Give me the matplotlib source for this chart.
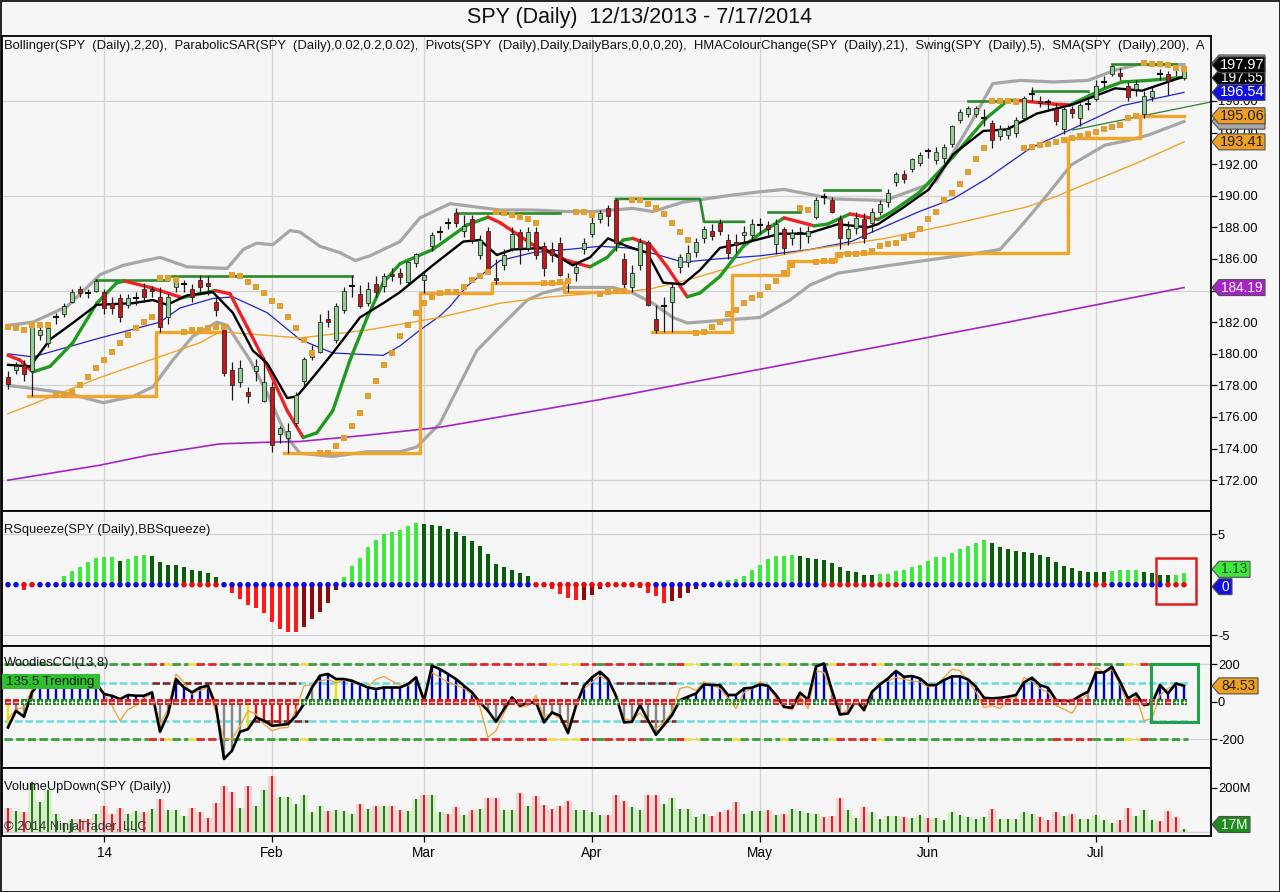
import numpy as np
import matplotlib
matplotlib.use("Agg")
import matplotlib.pyplot as plt
from matplotlib.patches import Rectangle, Polygon

plt.rcParams['font.family'] = ['Liberation Sans', 'DejaVu Sans']
plt.rcParams['axes.unicode_minus'] = False

# ---------------------------------------------------------------- data
title = "SPY (Daily)  12/13/2013 - 7/17/2014"
month_idx = [12, 33, 52, 73, 94, 115, 136]
month_labels = ["14", "Feb", "Mar", "Apr", "May", "Jun", "Jul"]

opens = [178.5, 178.97, 179.3, 178.9, 181.2, 180.7, 182.25, 182.5, 183.3, 184.1,
         183.8, 184.0, 183.9, 183.2, 183.5, 183.1, 183.45, 184.1, 184.1, 183.6,
         182.3, 184.2, 184.35, 184.1, 184.7, 184.5, 183.3, 181.6, 179.0, 178.2,
         177.6, 178.9, 177.0, 177.9, 174.9, 174.7, 175.6, 178.3, 179.8, 180.1,
         182.2, 180.9, 182.8, 184.25, 183.8, 183.2, 184.4, 184.3, 185.05, 185.1,
         184.55, 185.75, 184.7, 186.8, 187.65, 188.25, 188.9, 187.8, 188.5, 186.25,
         187.8, 184.8, 185.6, 186.7, 187.7, 186.7, 187.7, 186.8, 186.6, 187.0,
         184.8, 185.1, 186.6, 187.6, 188.5, 189.2, 189.7, 186.0, 184.2, 185.6,
         187.1, 182.2, 182.95, 183.3, 185.5, 185.8, 186.45, 187.3, 187.8, 188.3,
         187.2, 187.1, 187.5, 187.5, 188.1, 188.15, 186.95, 187.9, 187.3, 187.6,
         187.45, 188.65, 189.85, 189.7, 188.5, 187.3, 187.95, 188.5, 188.3, 189.0,
         189.6, 190.9, 191.4, 191.7, 192.1, 192.8, 192.25, 192.4, 193.3, 194.8,
         195.2, 195.2, 194.85, 194.6, 193.8, 193.85, 194.0, 194.9, 196.4, 196.0,
         195.9, 195.5, 194.2, 195.5, 194.9, 195.75, 196.1, 197.15, 197.7, 197.8,
         196.95, 196.75, 195.2, 196.25, 197.65, 197.7, 197.9, 197.45]
closes = [178.1, 179.2, 178.7, 181.7, 181.5, 181.6, 182.3, 183.0, 183.9, 183.85,
          183.85, 184.6, 182.9, 182.9, 182.3, 183.5, 183.5, 183.6, 184.0, 181.7,
          183.6, 184.7, 184.4, 183.6, 184.2, 184.3, 182.8, 178.8, 178.0, 179.1,
          177.3, 179.2, 178.2, 174.2, 175.3, 175.1, 177.4, 179.7, 180.05, 182.0,
          182.0, 183.0, 184.0, 184.3, 183.0, 184.1, 183.9, 184.9, 184.9, 184.85,
          185.8, 186.3, 185.0, 187.5, 187.7, 188.3, 188.3, 188.1, 187.2, 187.2,
          185.3, 184.7, 186.25, 187.6, 186.7, 187.7, 186.25, 185.4, 186.25, 185.0,
          184.5, 185.5, 187.0, 188.3, 188.9, 188.7, 187.0, 184.4, 185.1, 187.1,
          183.1, 181.5, 183.0, 184.2, 186.1, 186.4, 187.1, 187.9, 187.45, 187.8,
          186.4, 186.9, 187.7, 188.2, 188.15, 187.9, 188.2, 186.7, 187.65, 187.65,
          187.75, 189.7, 189.9, 189.0, 187.3, 187.9, 188.6, 187.3, 189.0, 189.5,
          190.2, 191.4, 191.05, 192.3, 192.6, 192.85, 192.8, 193.1, 194.4, 195.3,
          195.55, 195.55, 194.9, 193.5, 194.2, 194.2, 194.8, 196.2, 196.45, 195.9,
          195.95, 194.7, 195.5, 195.25, 195.75, 195.8, 196.95, 197.2, 198.2, 197.6,
          196.25, 197.1, 196.3, 196.6, 197.7, 197.25, 197.95, 197.97]
highs = [178.9, 179.5, 179.6, 181.9, 181.8, 181.9, 182.6, 183.2, 184.1, 184.3,
         184.1, 184.75, 184.1, 183.6, 183.8, 183.8, 183.9, 184.5, 184.3, 184.2,
         183.8, 184.8, 184.7, 184.4, 185.0, 184.9, 183.6, 181.8, 179.5, 179.6,
         177.9, 179.7, 179.8, 178.2, 175.4, 175.6, 177.6, 179.8, 180.55, 182.5,
         182.8, 183.2, 184.2, 185.0, 184.35, 184.55, 184.9, 185.1, 185.4, 185.4,
         185.85, 186.35, 185.1, 187.7, 188.1, 188.6, 189.2, 188.8, 188.8, 187.5,
         188.0, 186.0, 186.6, 188.0, 187.9, 188.0, 188.0, 187.1, 187.1, 187.4,
         185.1, 185.9, 187.3, 188.7, 189.1, 189.4, 189.8, 186.4, 185.6, 187.3,
         187.2, 183.1, 183.6, 184.5, 186.3, 186.9, 187.3, 188.1, 188.2, 188.5,
         187.6, 187.6, 188.1, 188.5, 188.6, 188.4, 188.5, 188.0, 187.9, 188.0,
         188.1, 189.9, 190.2, 189.9, 188.8, 188.4, 189.0, 188.9, 189.2, 189.7,
         190.4, 191.5, 191.6, 192.4, 192.8, 193.0, 193.1, 193.3, 194.5, 195.5,
         195.7, 195.7, 195.5, 194.8, 194.5, 194.5, 195.0, 196.3, 196.9, 196.3,
         196.1, 195.9, 195.7, 195.7, 195.9, 196.1, 197.3, 197.6, 198.3, 198.1,
         197.2, 197.3, 196.6, 196.9, 198.0, 197.9, 198.2, 198.1]
lows = [177.8, 178.7, 178.3, 177.3, 180.9, 180.4, 181.9, 182.3, 183.2, 183.6,
        183.5, 183.9, 182.5, 182.5, 182.0, 182.9, 183.1, 183.3, 183.6, 181.4,
        181.9, 183.9, 183.9, 183.3, 183.9, 183.7, 182.4, 178.6, 177.1, 177.9,
        176.9, 178.3, 176.95, 173.8, 174.35, 173.7, 175.4, 177.9, 179.6, 180.05,
        181.7, 180.7, 182.6, 183.6, 182.9, 183.0, 183.6, 183.9, 184.6, 184.4,
        184.4, 185.5, 183.85, 186.5, 187.2, 187.9, 188.0, 187.4, 187.0, 186.0,
        185.1, 184.4, 185.3, 186.5, 185.7, 186.5, 186.0, 184.9, 185.8, 184.9,
        183.9, 184.6, 186.3, 187.4, 188.3, 188.1, 186.5, 184.0, 183.9, 185.3,
        183.0, 181.3, 181.4, 181.4, 185.1, 185.5, 186.1, 187.0, 187.2, 187.5,
        186.0, 186.4, 187.1, 187.2, 187.6, 187.5, 186.3, 186.3, 186.9, 186.6,
        187.0, 188.5, 189.5, 188.9, 186.6, 186.9, 187.6, 187.0, 187.7, 188.8,
        189.3, 190.6, 190.8, 191.5, 191.9, 192.4, 192.0, 192.1, 193.1, 194.6,
        195.0, 195.0, 194.4, 193.0, 193.5, 193.6, 193.7, 194.7, 196.0, 195.6,
        195.5, 194.5, 193.9, 194.9, 194.4, 195.4, 196.0, 196.9, 197.6, 197.3,
        196.0, 196.3, 194.9, 196.0, 197.3, 196.4, 197.6, 197.3]

# Parabolic SAR, one dot per bar
sar = [181.7, 181.6, 181.5, 181.8, 181.8, 181.8, 177.4, 177.4, 177.6, 178.0,
       178.5, 179.1, 179.6, 180.1, 180.7, 181.2, 181.6, 182.0, 182.3, 184.8,
       184.8, 184.7, 181.4, 181.5, 181.5, 181.6, 181.7, 181.7, 185.0, 184.9,
       184.55, 184.2, 183.85, 183.35, 183.0, 182.3, 181.6, 180.9, 180.05, 173.7,
       173.7, 174.15, 174.7, 175.4, 176.25, 177.3, 178.3, 179.3, 180.05, 181.1,
       181.8, 182.6, 183.2, 183.6, 183.85, 183.9, 183.9, 184.2, 184.7, 184.9,
       185.2, 189.0, 188.9, 188.8, 188.65, 188.5, 188.3, 184.5, 184.5, 184.55,
       184.6, 189.0, 188.95, 188.8, 183.8, 183.9, 183.95, 184.0, 189.7, 189.7,
       189.5, 189.2, 188.85, 188.3, 187.7, 187.2, 181.3, 181.4, 181.7, 182.0,
       182.5, 182.8, 183.2, 183.5, 183.7, 184.2, 184.6, 185.1, 185.6, 189.2,
       189.1, 185.8, 185.9, 185.9, 186.25, 186.3, 186.3, 186.4, 186.5, 186.8,
       186.95, 187.0, 187.3, 187.5, 187.9, 188.5, 189.0, 189.7, 190.2, 190.75,
       191.5, 192.3, 193.0, 196.0, 196.0, 196.0, 195.95, 193.0, 193.1, 193.2,
       193.3, 193.4, 193.5, 193.65, 193.8, 193.9, 194.05, 194.2, 194.35, 194.5,
       194.9, 195.05, 198.4, 198.35, 198.35, 198.3, 198.1, 198.0]

# Swing low steps (first bar, last bar, level) and swing highs
swing_low_segments = [(3, 18, 177.3), (19, 26, 181.35), (35, 51, 173.7), (52, 60, 183.85),
                      (61, 69, 184.5), (70, 77, 183.9), (81, 90, 181.4), (91, 97, 185.0),
                      (98, 103, 185.9), (104, 132, 186.4), (133, 141, 193.65), (142, 147, 195.06)]
swing_high_paths = [([11, 20], [184.7, 184.7]), ([20.5, 43], [184.9, 184.9]),
                    ([56, 69], [188.9, 188.9]),
                    ([76, 86.5, 87, 92], [189.8, 189.8, 188.35, 188.35]),
                    ([95, 99], [189.0, 189.0]), ([102, 109], [190.35, 190.35]),
                    ([120, 125], [196.0, 196.0]), ([128, 135], [196.6, 196.6]),
                    ([138, 146], [198.35, 198.35])]

# Smooth indicator lines read at knots (bar index, value)
bb_up_idx = [0, 3.1, 7.4, 11.5, 14.4, 19, 22.4, 27.4, 29.4, 31.1, 33.1, 35.25, 36.5, 39, 41.5,
             43.4, 45.25, 49, 51.5, 55.25, 61.5, 65.6, 69.9, 73.1, 78.1, 80.6, 84.4, 90.6, 94, 97,
             103.25, 109.6, 116, 120.25, 123.1, 126.5, 130.75, 135, 138.4, 141.25, 147]
bb_up = [181.8, 182.0, 183.0, 185.0, 185.6, 186.1, 185.5, 185.4, 186.6, 187.0, 186.9, 187.8, 187.7,
         186.8, 186.4, 185.9, 186.2, 187.1, 188.6, 189.5, 189.1, 189.1, 189.0, 189.0, 189.2, 189.0,
         189.6, 190.05, 190.25, 190.4, 189.8, 189.7, 190.9, 194.5, 197.1, 197.3, 197.2, 197.3,
         197.95, 198.3, 198.3]
bb_lo_idx = [0, 3.1, 7.4, 11.9, 15.6, 18.1, 20.6, 23.1, 26.1, 27.4, 30.25, 32.4, 34.9, 36.5, 40.6,
             44.9, 49, 51.1, 54, 58.6, 61.5, 64.9, 66.9, 69.9, 73.1, 75.6, 78.1, 80.6, 83.1, 84.9,
             94, 97.75, 100.25, 103.75, 109.6, 120.25, 124, 126.5, 129.5, 132.9, 137.1, 140,
             142.6, 147]
bb_lo = [178.0, 177.8, 177.5, 176.9, 177.3, 177.9, 179.6, 181.1, 182.0, 181.8, 179.6, 177.5, 174.7,
         173.7, 173.5, 173.8, 173.8, 174.1, 175.6, 180.2, 181.7, 183.4, 183.85, 184.2, 184.2, 184.2,
         183.85, 183.2, 182.3, 181.95, 182.3, 183.4, 184.35, 185.1, 185.55, 186.3, 186.6, 188.0,
         189.8, 191.95, 193.2, 193.5, 193.85, 194.7]
bb_mid_idx = [0, 3.1, 11.5, 19, 21.5, 25.6, 28.1, 32.4, 36.5, 40.6, 46.9, 49, 51.5, 54, 55.25,
              57.4, 61.5, 65.6, 69.9, 74, 77.4, 80.25, 84.4, 88.6, 94, 100.25, 105.4, 108, 113.9,
              118.1, 122.25, 127.75, 132.9, 139.25, 147]
bb_mid = [180.0, 179.8, 181.0, 182.0, 182.9, 183.5, 183.6, 182.6, 180.9, 180.05, 179.9, 180.5,
          181.5, 182.4, 183.0, 184.3, 185.9, 186.4, 186.6, 186.8, 186.7, 186.4, 185.8, 186.0,
          186.2, 186.6, 187.1, 187.7, 189.0, 189.8, 191.05, 193.0, 194.2, 195.7, 196.54]
avg_idx = [0, 2.75, 5.25, 8.1, 11.1, 15.6, 18.1, 19.9, 22.4, 25.6, 28.1, 30.6, 32.4, 34.9, 36.1,
           38.1, 40.6, 44, 46.9, 49, 53.1, 56.9, 59, 61.1, 63.1, 66.9, 70.6, 72.75, 75, 77.4, 79.9,
           81.9, 84.4, 86.5, 89, 92.75, 96.5, 99.9, 103.75, 107.5, 108.75, 111.75, 115.1, 118.1,
           121.9, 124.9, 128.6, 133.25, 138.4, 141.75, 147]
avg_val = [179.3, 179.2, 180.9, 181.95, 183.1, 183.2, 183.4, 183.1, 183.7, 183.9, 182.6, 180.2,
           179.4, 177.2, 177.3, 178.5, 180.05, 182.3, 183.2, 183.9, 185.6, 187.1, 187.2, 186.25,
           186.6, 186.7, 185.6, 186.1, 187.3, 186.8, 186.4, 184.5, 184.4, 185.3, 186.7, 187.1,
           187.6, 187.6, 188.2, 188.0, 188.2, 189.2, 190.4, 192.6, 194.1, 194.2, 195.2, 195.8,
           196.8, 196.65, 197.55]
hma_idx = [0, 1.5, 3.1, 5.25, 8.1, 11.1, 13.6, 14.6, 17.75, 21.75, 25.9, 27.75, 29.9, 32.4, 34.9,
           36.9, 38.6, 40.6, 42.75, 44.9, 46.9, 49, 53.1, 57.4, 60, 61.5, 65.6, 69.9, 72.75, 74.9,
           76.9, 78.1, 80.25, 82.4, 84.9, 86.5, 89, 91.9, 94, 97, 100.75, 102.4, 105.25, 108.75,
           110.5, 113.9, 118.1, 122.25, 124.9, 125.9, 130.75, 132.75, 137.1, 139.25, 142.6, 147]
hma_val = [179.9, 179.6, 178.85, 179.2, 180.7, 183.2, 184.5, 184.6, 184.2, 183.55, 184.0, 183.8,
           181.7, 179.2, 176.4, 174.7, 175.0, 176.4, 179.6, 182.3, 184.5, 185.7, 186.6, 188.15,
           188.65, 188.3, 186.9, 185.9, 185.5, 186.1, 187.2, 187.3, 186.9, 185.5, 183.6, 183.85,
           184.9, 186.8, 187.6, 188.6, 188.1, 188.2, 188.85, 188.5, 189.0, 190.2, 192.45, 194.9,
           196.0, 196.05, 195.8, 195.75, 196.8, 197.2, 197.3, 197.5]
sma50_idx = [0, 11.5, 24, 26.5, 36.5, 44.9, 54, 61.5, 67.75, 74, 77.75, 80.25, 84.4, 90.6, 94,
             100.4, 109.6, 118.1, 127.4, 130.75, 135, 141.25, 147]
sma50 = [176.2, 178.5, 180.7, 181.4, 181.0, 181.5, 182.3, 183.2, 183.6, 183.85, 183.95, 184.1,
         184.6, 185.5, 186.0, 186.6, 187.3, 188.2, 189.3, 189.9, 190.8, 192.1, 193.41]
sma200_idx = [0, 11.5, 17.75, 26.5, 32.4, 36.5, 44.9, 54, 74, 99, 124, 147]
sma200 = [172.0, 172.95, 173.6, 174.3, 174.4, 174.45, 174.85, 175.35, 177.1, 179.5, 181.9, 184.19]
trend_idx = [133.1, 150.4]
trend_val = [194.16, 195.94]

# BBSqueeze histogram
squeeze = [0.05, 0.05, -0.5, -0.05, 0.1, 0.1, 0.15, 0.84, 1.34, 1.8,
           2.25, 2.7, 2.75, 2.78, 2.4, 2.6, 2.85, 2.9, 2.88, 2.3,
           2.0, 1.98, 1.8, 1.5, 1.4, 1.2, 0.8, -0.1, -0.85, -1.4,
           -2.05, -2.3, -2.8, -3.7, -4.45, -4.65, -4.7, -4.2, -3.45, -2.7,
           -1.8, -0.55, 0.75, 1.85, 2.7, 3.7, 4.4, 5.0, 5.2, 5.45,
           5.8, 6.1, 6.0, 5.95, 5.85, 5.55, 5.2, 4.85, 4.35, 3.85,
           3.0, 2.1, 1.75, 1.5, 1.15, 0.9, -0.1, -0.2, -0.4, -0.95,
           -1.3, -1.55, -1.5, -1.05, -0.45, -0.1, -0.05, -0.1, -0.2, -0.35,
           -0.85, -1.1, -1.8, -1.6, -1.3, -0.85, -0.45, 0.1, 0.2, 0.4,
           0.5, 0.6, 0.9, 1.5, 2.0, 2.6, 2.85, 2.87, 2.9, 2.85,
           2.65, 2.6, 2.5, 2.2, 1.75, 1.4, 1.25, 1.0, 0.98, 1.07,
           1.08, 1.35, 1.5, 1.75, 2.0, 2.4, 2.75, 2.8, 3.15, 3.5,
           3.85, 4.1, 4.43, 4.1, 3.75, 3.5, 3.3, 3.25, 3.1, 2.9,
           2.75, 2.25, 1.9, 1.65, 1.4, 1.25, 1.24, 1.23, 1.38, 1.42,
           1.44, 1.46, 1.3, 1.15, 0.98, 0.92, 1.0, 1.13]
squeeze_on_bars = [2, 3, 22, 23, 24, 25, 26] + list(range(66, 81)) + list(range(102, 112)) + [136, 137, 145, 146, 147]

# Woodies CCI
cci = [-137, -48, -80, 50, 103, 120, 130, 135, 125, 115,
       110, 100, 41, 32, 14, 36, 32, 32, 50, -160,
       -66, 121, 76, 50, 76, 85, -21, -305, -261, -160,
       -146, -84, -101, -128, -124, -119, -75, -12, 76, 139,
       148, 121, 121, 112, 94, 76, 68, 76, 76, 76,
       94, 130, 5, 192, 174, 148, 121, 85, 50, -4,
       -48, -107, -39, 23, -21, -4, -4, -110, -57, -75,
       -167, -21, 85, 130, 160, 121, 32, -110, -107, -18,
       -98, -176, -124, -71, 9, 27, 44, 92, 89, 89,
       36, 36, 71, 75, 92, 85, 36, -27, -32, 48,
       12, 187, 204, 60, -68, -62, 9, -44, 53, 92,
       124, 164, 133, 137, 124, 89, 89, 116, 135, 135,
       119, 80, 21, 18, 21, 27, 36, 103, 128, 89,
       75, 9, 4, 4, 32, 53, 156, 156, 187, 107,
       18, 44, -18, -9, 89, 44, 98, 84.53]
turbo_cci = [-92, -40, -30, 68, 110, 125, 135, 140, 130, 115,
             100, 90, 40, -21, -101, -40, -21, 20, 40, -120,
             -40, 148, 103, 40, 60, 75, -60, -199, -199, -128,
             -48, -66, -120, -155, -140, -137, -40, 85, 89, 110,
             120, 100, 115, 105, 90, 80, 120, 135, 110, 90,
             85, 120, 30, 156, 130, 103, 90, 70, 40, -30,
             -190, -155, -60, 23, -30, -20, 32, -80, -60, -90,
             -137, -21, 70, 103, 139, 110, 20, -90, -100, -60,
             -107, -142, -110, -53, 71, 80, 60, 107, 90, 70,
             20, -36, 50, 70, 107, 80, 20, -30, -44, 30,
             -36, 165, 156, 40, -71, -40, 0, -53, 40, 103,
             110, 130, 120, 110, 105, 80, 85, 130, 174, 165,
             110, 53, -32, -20, -36, 10, 30, 130, 110, 70,
             50, -20, -40, -62, 10, 40, 183, 156, 170, 90,
             -20, 30, -101, -89, 36, 71, 90, 85]
cci_bar_codes = ('y' + 'g' * 3 + 'b' * 15 + 'g' * 2 + 'b' * 5 + 'g' * 4 + 'y' + 'r' * 6 + 'g' * 2
                 + 'b' * 2 + 'y' + 'b' * 10 + 'g' + 'b' * 6 + 'g' * 13 + 'b' * 4 + 'g' * 8 + 'b' * 12
                 + 'g' * 5 + 'b' * 2 + 'g' * 5 + 'b' * 14 + 'g' * 5 + 'b' * 4 + 'g' * 5 + 'b' * 4
                 + 'g' * 4 + 'b' * 4)
cci_zero_marks = ('--' + '+' * 10 + '-' * 25 + '+' * 15 + '-' * 20 + '+' * 5 + '-' * 7 + '+' * 12
                  + '-' * 5 + '++' + '-' * 5 + '+' * 14 + '-' * 14 + '+' * 4 + '-' * 4 + '+' + '-' + '++')
band_red_bars = [18, 19, 24, 25, 26] + list(range(58, 68)) + [72, 73, 75, 76, 77, 78, 79, 84] \
    + list(range(104, 109)) + list(range(131, 136)) + [142]
band_yellow_bars = [20, 23, 37, 68, 69, 70, 71, 85, 86, 91, 97, 103, 109, 140, 141]
zone_segments = [(18, 36.5, 100), (30.5, 37.5, -100), (69, 71.5, 100), (69, 71.5, -100),
                 (76, 83.5, 100), (79, 83.5, -100)]

# Volume (millions of shares) and up/down colour
volume = [110, 95, 92, 228, 136, 192, 84, 44, 62, 62,
          59, 84, 118, 84, 110, 84, 95, 92, 104, 148,
          102, 102, 74, 110, 92, 65, 132, 207, 181, 110,
          210, 118, 192, 252, 161, 161, 129, 166, 92, 118,
          96, 99, 96, 81, 126, 107, 118, 118, 118, 99,
          96, 148, 166, 166, 92, 81, 114, 77, 102, 104,
          154, 154, 99, 99, 178, 118, 163, 124, 107, 118,
          141, 99, 99, 92, 77, 77, 166, 141, 114, 99,
          169, 169, 129, 154, 104, 104, 70, 84, 74, 92,
          99, 136, 84, 95, 95, 99, 77, 84, 104, 95,
          87, 84, 70, 74, 154, 99, 65, 114, 92, 62,
          73, 73, 70, 65, 77, 65, 65, 55, 92, 77,
          70, 62, 70, 104, 62, 62, 62, 92, 84, 70,
          55, 92, 74, 84, 62, 62, 80, 55, 40, 55,
          110, 74, 99, 55, 50, 95, 70, 17]
volume_dir = ("rgrggggggr" "rgrrrggrgr" "gggrrrrrrg" "rggrgggggg" "rgggrgrgrr"
              "ggrggrrgrg" "rrggrgrrrr" "rggggrrrgg" "rrggggggrr" "rrgggrgrgg"
              "ggrrrggrgg" "ggrggrgggg" "gggrgggggr" "rrgrgggggr" "rgggrrrg")

n = len(closes)
for arr in (opens, highs, lows, sar, squeeze, cci, turbo_cci, volume):
    assert len(arr) == n, len(arr)
assert len(cci_bar_codes) == n and len(cci_zero_marks) == n and len(volume_dir) == n

# ---------------------------------------------------------------- figure
W, H = 1280, 892
fig = plt.figure(figsize=(W / 100, H / 100), dpi=100)
BG = '#f6f6f6'
GRID = '#d2d2d2'
fig.patch.set_facecolor(BG)


def px_rect(x0, y0, x1, y1):
    return [x0 / W, 1 - y1 / H, (x1 - x0) / W, (y1 - y0) / H]


ax1 = fig.add_axes(px_rect(2, 36, 1211, 511))
ax2 = fig.add_axes(px_rect(2, 511, 1211, 646))
ax3 = fig.add_axes(px_rect(2, 646, 1211, 768))
ax4 = fig.add_axes(px_rect(2, 768, 1211, 836))
axes = [ax1, ax2, ax3, ax4]
ax1.set_ylim(170.05, 200.11)
ax2.set_ylim(-6.09, 7.32)
ax3.set_ylim(-353, 297)
ax4.set_ylim(-16.8, 290)

x = np.arange(n)
for ax in axes:
    ax.set_facecolor(BG)
    ax.set_xlim(-0.75, 150.375)
    for s in ax.spines.values():
        s.set_color('black')
        s.set_linewidth(1.3)
    ax.yaxis.tick_right()
    ax.tick_params(axis='y', direction='out', length=4, width=0.9, labelsize=9.3, pad=1)
    ax.tick_params(axis='x', length=0, labelbottom=False)
    for m in month_idx:
        ax.axvline(m, color=GRID, lw=0.9, zorder=0)

# ---------------- price panel
price_ticks = np.arange(172, 197, 2)
ax1.set_yticks(price_ticks)
# 184.00 sits fully under the SMA(200) value tag, as in the original
ax1.set_yticklabels(['' if v == 184 else '%.2f' % v for v in price_ticks])
for g in (172, 178, 184, 190, 196):
    ax1.axhline(g, color=GRID, lw=0.9, zorder=0)

ax1.plot(bb_up_idx, bb_up, color='#a6a6a6', lw=2.3, zorder=2)
ax1.plot(bb_lo_idx, bb_lo, color='#a6a6a6', lw=2.3, zorder=2)
ax1.plot(bb_mid_idx, bb_mid, color='#2323c8', lw=0.9, zorder=2)
ax1.plot(sma50_idx, sma50, color='#f0a428', lw=1.0, zorder=2)
ax1.plot(sma200_idx, sma200, color='#a424c4', lw=1.2, zorder=2)
ax1.plot(trend_idx, trend_val, color='#2e7d2e', lw=0.9, zorder=2)

step = np.full(n, np.nan)
for a, b, v in swing_low_segments:
    step[a:b + 1] = v
ax1.plot(x, step, drawstyle='steps-mid', color='#f2a52a', lw=2.4, zorder=2.2)
for px_, pv in swing_high_paths:
    ax1.plot(px_, pv, color='#2a8a2a', lw=1.9, zorder=2.2)

hx = np.array(hma_idx)
hv = np.array(hma_val)
for k in range(len(hx) - 1):
    col = '#1f9a1f' if hv[k + 1] >= hv[k] else '#ee2222'
    ax1.plot(hx[k:k + 2], hv[k:k + 2], color=col, lw=2.4, solid_capstyle='round', zorder=2.5)
ax1.plot(avg_idx, avg_val, color='black', lw=1.7, zorder=2.6)

o = np.array(opens); c = np.array(closes); hi = np.array(highs); lo = np.array(lows)
ax1.vlines(x, lo, hi, color='#1c1c1c', lw=0.9, zorder=3)
body = np.abs(c - o)
doji = body < 0.08
up = (c > o) & ~doji
dn = (c < o) & ~doji
ax1.bar(x[up], body[up], bottom=np.minimum(o, c)[up], width=0.62, color='#8fcf8f',
        edgecolor='#2a2a2a', linewidth=0.6, zorder=3.2)
ax1.bar(x[dn], body[dn], bottom=np.minimum(o, c)[dn], width=0.62, color='#c41818',
        edgecolor='#2a2a2a', linewidth=0.6, zorder=3.2)
ax1.hlines(c[doji], x[doji] - 0.38, x[doji] + 0.38, color='#101010', lw=1.5, zorder=3.2)

ax1.scatter(x, sar, marker='s', s=17, color='#e3a030', linewidths=0, zorder=4)

legend = ("Bollinger(SPY  (Daily),2,20),  ParabolicSAR(SPY  (Daily),0.02,0.2,0.02),  "
          "Pivots(SPY  (Daily),Daily,DailyBars,0,0,0,20),  HMAColourChange(SPY  (Daily),21),  "
          "Swing(SPY  (Daily),5),  SMA(SPY  (Daily),200),  A")
ax1.text(2 / 1209, 1 - 9.5 / 475, legend, transform=ax1.transAxes, ha='left', va='center',
         fontsize=9.4, color='#111111', clip_on=True, zorder=6)

# ---------------- squeeze panel
sq = np.array(squeeze)
sq_cols = []
for i, v in enumerate(sq):
    prev = sq[i - 1] if i > 0 else v
    if v >= 0:
        sq_cols.append('#3ee83e' if v >= prev else '#0b5e0b')
    else:
        sq_cols.append('#ff1a1a' if v <= prev else '#8b0a0a')
ax2.bar(x, sq, width=0.6, color=sq_cols, zorder=2)
dot_cols = ['#e60a0a' if i in squeeze_on_bars else '#0a0ae6' for i in range(n)]
ax2.scatter(x, np.zeros(n), s=16, color=dot_cols, linewidths=0, zorder=3)
ax2.set_yticks([5, -5])
ax2.set_yticklabels(['5', '-5'])
for g in (5, -5):
    ax2.axhline(g, color=GRID, lw=0.9, zorder=0)
ax2.text(2 / 1209, 1 - 19 / 135, "RSqueeze(SPY (Daily),BBSqueeze)", transform=ax2.transAxes,
         ha='left', va='center', fontsize=9.3, color='#111111')

# ---------------- CCI panel
ax3.set_yticks([200, 0, -200])
ax3.set_yticklabels(['200', '0', '-200'])
for g in (200, -200):
    ax3.axhline(g, color=GRID, lw=0.9, zorder=0)


def runs(codes):
    out, start = [], 0
    for i in range(1, len(codes) + 1):
        if i == len(codes) or codes[i] != codes[start]:
            out.append((start, i - 1, codes[start]))
            start = i
    return out


band_codes = ['g'] * n
for i in band_red_bars:
    band_codes[i] = 'r'
for i in band_yellow_bars:
    band_codes[i] = 'y'
band_col = {'g': '#3aa03a', 'r': '#e02828', 'y': '#f0e040'}
for a, b, code in runs(band_codes):
    for lev in (200, -200):
        ax3.plot([a - 0.5, b + 0.5], [lev, lev], color=band_col[code], lw=2.0,
                 dashes=(3, 1.2), zorder=1.5)
for lev in (100, -100):
    ax3.plot([-0.5, n - 0.5], [lev, lev], color='#66dede', lw=1.8, dashes=(3, 1.2), zorder=1.5)
for a, b, lev in zone_segments:
    ax3.plot([a, b], [lev, lev], color='#8b1a1a', lw=1.8, dashes=(3, 1.2), zorder=1.6)

hist_col = {'b': '#0000cc', 'g': '#858585', 'r': '#e01010', 'y': '#e8e000'}
ax3.vlines(x, 0, cci, colors=[hist_col[k] for k in cci_bar_codes], lw=1.7, zorder=2)
ax3.plot(x, turbo_cci, color='#f0a030', lw=0.9, zorder=3)
ax3.plot(x, cci, color='black', lw=1.9, zorder=4)
plus = np.array([m == '+' for m in cci_zero_marks])
ax3.scatter(x[plus], np.zeros(plus.sum()), marker='s', s=19, color='#1e8a1e', linewidths=0, zorder=5)
ax3.scatter(x[~plus], np.zeros((~plus).sum()), marker='s', s=19, color='#e02020', linewidths=0, zorder=5)
ax3.scatter(x[plus], np.zeros(plus.sum()), marker='+', s=9, color='white', linewidths=0.8, zorder=6)
ax3.scatter(x[~plus], np.zeros((~plus).sum()), marker='_', s=9, color='white', linewidths=0.8, zorder=6)
ax3.text(2 / 1209, 1 - 17 / 122, "WoodiesCCI(13,8)", transform=ax3.transAxes,
         ha='left', va='center', fontsize=9.3, color='#111111', zorder=7)

# ---------------- volume panel
vcol = ['#d02828' if d == 'r' else '#2a7a1a' for d in volume_dir]
vlight = ['#f6d2d2' if d == 'r' else '#d6efca' for d in volume_dir]
ax4.bar(x, volume, width=0.9, color=vlight, zorder=1)
ax4.bar(x, volume, width=0.3, color=vcol, zorder=2)
ax4.set_yticks([200])
ax4.set_yticklabels(['200M'])
ax4.axhline(0, color=GRID, lw=0.9, zorder=0)
ax4.set_xticks(month_idx)
ax4.set_xticklabels(month_labels)
ax4.tick_params(axis='x', length=4, width=0.9, direction='out', labelbottom=True,
                labelsize=9.8, pad=3)
ax4.text(2 / 1209, 1 - 19 / 68, "VolumeUpDown(SPY (Daily))", transform=ax4.transAxes,
         ha='left', va='center', fontsize=9.3, color='#111111', zorder=5)
ax4.text(2 / 1209, 1 - 59 / 68, "\u00a9 2014 NinjaTrader, LLC", transform=ax4.transAxes,
         ha='left', va='center', fontsize=9.3, color='#333333', zorder=5)

# ---------------- title, frame and annotations
fig.text(0.5, 1 - 17 / H, title, ha='center', va='center', fontsize=15.5, color='#111111')
fig.add_artist(Rectangle((0.5 / W, 0.5 / H), (W - 1) / W, (H - 1) / H, transform=fig.transFigure,
                         fill=False, ec='black', lw=1.2))

fig.add_artist(Rectangle((2 / W, 1 - 689 / H), 98 / W, 15 / H, transform=fig.transFigure,
                         fc='#2fbf2f', ec='none', zorder=8))
fig.text(6 / W, 1 - 681.5 / H, "135.5 Trending", ha='left', va='center', fontsize=9.5,
         color='#102010', zorder=9)
fig.add_artist(Rectangle((1156 / W, 1 - 604 / H), 40 / W, 46 / H, transform=fig.transFigure,
                         fill=False, ec='#e02020', lw=1.8, zorder=8))
fig.add_artist(Rectangle((1151 / W, 1 - 722 / H), 47 / W, 58 / H, transform=fig.transFigure,
                         fill=False, ec='#22a04a', lw=2.2, zorder=8))

_z = [20]


def ypix(ax, v):
    return H - ax.transData.transform((0, v))[1]


def tag(yc, text, fc, tc, w=53, fs=9.8, ec='#505050'):
    x0 = 1212
    z = _z[0]
    _z[0] += 2
    pts = [(x0, yc), (x0 + 7, yc - 8), (x0 + w, yc - 8), (x0 + w, yc + 8), (x0 + 7, yc + 8)]
    fig.add_artist(Polygon([(p / W, 1 - q / H) for p, q in pts], closed=True,
                           transform=fig.transFigure, fc=fc, ec=ec, lw=0.8, zorder=z))
    if text:
        fig.text((x0 + 7 + (w - 7) / 2) / W, 1 - yc / H, text, ha='center', va='center',
                 fontsize=fs, color=tc, zorder=z + 1)


tag(ypix(ax1, 198.34) - 1, '', '#a8a8a8', '#222222')
tag(ypix(ax1, 197.55) + 1.5, '197.55', '#000000', 'white')
tag(ypix(ax1, 197.97) - 5, '197.97', '#000000', 'white', fs=10.5)
tag(ypix(ax1, 196.54), '196.54', '#1010e0', 'white', fs=10.5)
tag(ypix(ax1, 194.72), '', '#a8a8a8', '#222222')
tag(ypix(ax1, 195.06), '195.06', '#f0a020', '#222222', fs=10.5)
tag(ypix(ax1, 193.41), '193.41', '#f0a020', '#222222', fs=10.5)
tag(ypix(ax1, 184.19), '184.19', '#a424c4', 'white')
tag(ypix(ax2, 0) + 2, '0', '#1010e0', 'white', w=20)
tag(ypix(ax2, 1.13) - 4, '1.13', '#3ee83e', '#0a4a0a', w=38)
tag(ypix(ax3, 84.53), '84.53', '#f0a020', '#222222', w=46)
tag(ypix(ax4, 17) - 4, '17M', '#1e8c1e', 'white', w=38)

fig.savefig('out.png', dpi=100, facecolor=BG)
